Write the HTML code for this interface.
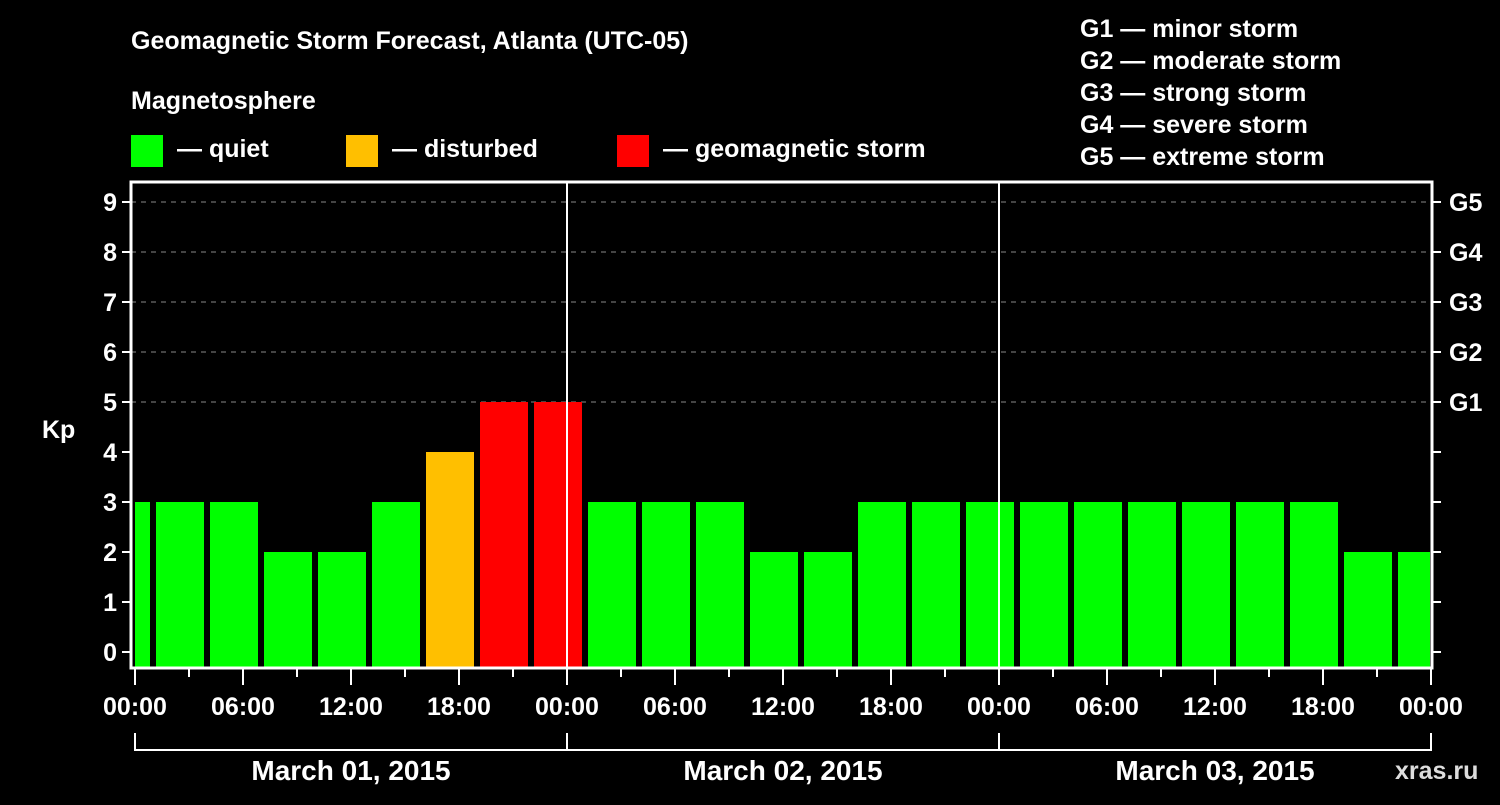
<!DOCTYPE html>
<html><head><meta charset="utf-8"><style>
body{margin:0;background:#000;width:1500px;height:800px;overflow:hidden}
svg text{font-family:"Liberation Sans",Arial,sans-serif;font-weight:bold;fill:#fff}
</style></head><body>
<svg id="c" width="1500" height="800">
<text x="131" y="49" font-size="25">Geomagnetic Storm Forecast, Atlanta (UTC-05)</text>
<text x="131" y="109" font-size="25">Magnetosphere</text>
<rect x="131" y="135" width="32" height="32" fill="#00ff00"/>
<text x="177" y="157" font-size="25">— quiet</text>
<rect x="346" y="135" width="32" height="32" fill="#ffbf00"/>
<text x="392" y="157" font-size="25">— disturbed</text>
<rect x="617" y="135" width="32" height="32" fill="#ff0000"/>
<text x="663" y="157" font-size="25">— geomagnetic storm</text>
<g font-size="25">
<text x="1080" y="37">G1 — minor storm</text>
<text x="1080" y="69">G2 — moderate storm</text>
<text x="1080" y="101">G3 — strong storm</text>
<text x="1080" y="133">G4 — severe storm</text>
<text x="1080" y="165">G5 — extreme storm</text>
</g>
<text x="42" y="438" font-size="25">Kp</text>
<text x="1395" y="779" font-size="25" fill="#fff" style="fill:#ddd">xras.ru</text>
<g id="grid"></g><g id="bars"></g><g id="axes"></g>
</svg>
<script>
const hours=[-0.5,2.5,5.5,8.5,11.5,14.5,17.5,20.5,23.5,26.5,29.5,32.5,35.5,38.5,41.5,44.5,47.5,50.5,53.5,56.5,59.5,62.5,65.5,68.5,71.5];
const kp=[3,3,3,2,2,3,4,5,5,3,3,3,2,2,3,3,3,3,3,3,3,3,3,2,2];
const yTicks=[0,1,2,3,4,5,6,7,8,9];
const gLabels=["G1","G2","G3","G4","G5"];
const gKp=[5,6,7,8,9];
const xLabels=["00:00","06:00","12:00","18:00","00:00","06:00","12:00","18:00","00:00","06:00","12:00","18:00","00:00"];
const dates=["March 01, 2015","March 02, 2015","March 03, 2015"];
const NS="http://www.w3.org/2000/svg";
const L=131,T=182,R=1432,B=668,X0=135,PXH=18;
const x=h=>X0+h*PXH, y=v=>652-v*50;
function mk(p,tag,a){const e=document.createElementNS(NS,tag);for(const k in a)e.setAttribute(k,a[k]);document.getElementById(p).appendChild(e);return e;}
yTicks.forEach(v=>{
 if(v>=5){const g=mk('grid','line',{x1:L,x2:R,y1:y(v),y2:y(v),stroke:'#888','stroke-width':1,'stroke-dasharray':'5,5'});
 
 }
 const t=mk('axes','line',{x1:L-9,x2:L,y1:y(v),y2:y(v),stroke:'#fff','stroke-width':2});
 
 
 const t2=mk('axes','line',{x1:R,x2:R+9,y1:y(v),y2:y(v),stroke:'#fff','stroke-width':2});
 
 
 const l=mk('axes','text',{x:L-14,y:y(v)+9,'font-size':25,'text-anchor':'end'});l.textContent=v;
 
 
});
gLabels.forEach((g,i)=>{const l=mk('axes','text',{x:1449,y:y(gKp[i])+9,'font-size':25});l.textContent=g;
 
 });
hours.forEach((h,i)=>{
 const c=kp[i]>=5?'#ff0000':kp[i]>=4?'#ffbf00':'#00ff00';
 let x1=Math.max(x(h)-24,x(0)),x2=Math.min(x(h)+24,x(72)-1);
 const b=mk('bars','rect',{x:x1,y:y(kp[i]),width:x2-x1,height:B-y(kp[i]),fill:c});
 
 
});
[24,48].forEach(h=>{const d=mk('axes','line',{x1:x(h),x2:x(h),y1:T,y2:B,stroke:'#fff','stroke-width':2});
 
 });
const fr=mk('axes','rect',{x:L,y:T,width:R-L,height:B-T,fill:'none',stroke:'#fff','stroke-width':3});


for(let h=0;h<=72;h+=3){const maj=h%6==0;const t=mk('axes','line',{x1:x(h),x2:x(h),y1:B,y2:maj?685:677,stroke:'#fff','stroke-width':2});
 
 }
xLabels.forEach((s,i)=>{const l=mk('axes','text',{x:x(i*6),y:715,'font-size':25,'text-anchor':'middle'});l.textContent=s;
 
 });
const br=mk('axes','path',{d:`M${x(0)} 733V750H${x(72)}V733M${x(24)} 733V750M${x(48)} 733V750`,fill:'none',stroke:'#fff','stroke-width':2});


dates.forEach((d,i)=>{const l=mk('axes','text',{x:x(i*24+12),y:780,'font-size':28,'text-anchor':'middle'});l.textContent=d;
 
 });
</script>
</body></html>
